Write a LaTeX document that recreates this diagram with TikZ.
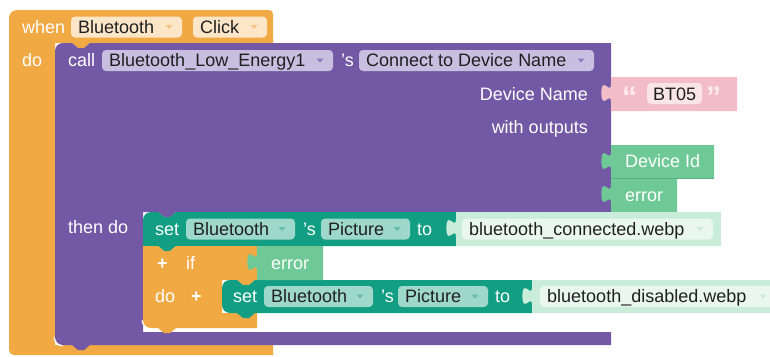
\documentclass[tikz,border=0pt]{standalone}
\usepackage{fontspec}
\setmainfont{Liberation Sans}

% block colours
\definecolor{evt}{HTML}{F1A944}
\definecolor{evtfld}{HTML}{FDE5C7}
\definecolor{evtarr}{HTML}{F5C484}
\definecolor{pur}{HTML}{7359A5}
\definecolor{purfld}{HTML}{C8BEE0}
\definecolor{purarr}{HTML}{8E7CBE}
\definecolor{setc}{HTML}{119E82}
\definecolor{setfld}{HTML}{9ED8CA}
\definecolor{setarr}{HTML}{63BDA8}
\definecolor{outg}{HTML}{6FC996}
\definecolor{outgdk}{HTML}{5BB383}
\definecolor{txtg}{HTML}{C9EDD9}
\definecolor{txtgfld}{HTML}{E9F7EF}
\definecolor{txtgarr}{HTML}{CDE9DA}
\definecolor{pink}{HTML}{F2BDC7}
\definecolor{pinkfld}{HTML}{F9E4E8}
\definecolor{pinkq}{HTML}{FCEAEE}
\definecolor{ink}{HTML}{202020}

\newcommand\blkfont{\fontsize{18}{20}\selectfont}
\newcommand\quotefont{\fontsize{30}{32}\selectfont\bfseries}
\newcommand\possessive{{\char"0027}s}

\tikzset{
  lbl/.style={text=white, inner sep=0pt, anchor=base west, font=\blkfont},
  lblr/.style={text=white, inner sep=0pt, anchor=base east, font=\blkfont},
  fldtxt/.style={text=ink, inner sep=0pt, anchor=base west, font=\blkfont},
  quotemark/.style={text=pinkq, inner sep=0pt, anchor=base west, font=\quotefont},
}

% dropdown field: name, fill, arrow colour, left x, right x, centre y, text
\newcommand\ddfield[7]{%
  \fill[#2, rounded corners=4] (#4,#6-10.5) rectangle (#5,#6+10.5);
  \node[fldtxt] (#1) at (#4+7,#6+6.3) {#7};
  \fill[#3] (#5-16.5,#6-2) -- (#5-9.5,#6-2) -- (#5-13,#6+2) -- cycle;
}

% value block with a puzzle tab on its left edge: colour, left, right, top, bottom
\newcommand\valblk[5]{%
  \fill[#1] (#2,#4) -- (#3,#4) -- (#3,#5) -- (#2,#5) -- (#2,#4+25)
    .. controls (#2,#4+13) and (#2-9.6,#4+34.6) .. (#2-9.6,#4+16)
    .. controls (#2-9.6,#4-2.6) and (#2,#4+19) .. (#2,#4+7) -- cycle;
}

\begin{document}
\begin{tikzpicture}[x=1pt,y=-1pt]
\useasboundingbox (0,0) rectangle (770,356);
\clip (0,0) rectangle (770,356);

% event block: when Bluetooth.Click
\fill[evt] (9,18) arc[start angle=180,end angle=270,radius=8] -- (269,10)
  arc[start angle=270,end angle=360,radius=4] -- (273,43)
  -- (90,43) -- (84,48) -- (78,48) -- (72,43) -- (55,43)
  -- (55,345) -- (273,345) -- (273,355) -- (14,355)
  arc[start angle=90,end angle=180,radius=5] -- cycle;

% method call block with its "then do" statement input
\fill[pur] (55,51) arc[start angle=180,end angle=270,radius=8]
  -- (72,43) -- (78,48) -- (84,48) -- (90,43) -- (611,43) -- (611,212)
  -- (176,212) -- (170,217) -- (164,217) -- (158,212) -- (143,212)
  -- (143,332) -- (611,332) -- (611,345)
  -- (90,345) -- (84,350) -- (78,350) -- (72,345) -- (63,345)
  arc[start angle=90,end angle=180,radius=8] -- cycle;
\draw[white, line width=0.9] (54,337) arc[start angle=180,end angle=90,radius=9];

% first setter
\fill[setc] (143,220) arc[start angle=180,end angle=270,radius=8]
  -- (158,212) -- (164,217) -- (170,217) -- (176,212) -- (456,212)
  -- (456,246) -- (176,246) -- (170,251) -- (164,251) -- (158,246)
  -- (143,246) -- cycle;

% if block
\fill[evt] (143,246) -- (158,246) -- (164,251) -- (170,251) -- (176,246)
  -- (257,246) -- (257,280)
  -- (255,280) -- (249,285) -- (243,285) -- (237,280) -- (222,280)
  -- (222,313) -- (257,313) -- (257,328)
  -- (176,328) -- (170,333) -- (164,333) -- (158,328) -- (151,328)
  arc[start angle=90,end angle=180,radius=8] -- cycle;
\draw[white, line width=0.9] (142,320) arc[start angle=180,end angle=90,radius=9];

% second setter, inside the if
\fill[setc] (222,288) arc[start angle=180,end angle=270,radius=8]
  -- (237,280) -- (243,285) -- (249,285) -- (255,280) -- (532,280)
  -- (532,313) -- (255,313) -- (249,318) -- (243,318) -- (237,313)
  -- (230,313) arc[start angle=90,end angle=180,radius=8] -- cycle;

% value blocks
\valblk{pink}{611}{737}{77}{111}
\valblk{outg}{611}{714}{145}{178}
\valblk{outg}{611}{677}{178}{212}
\draw[outgdk, line width=0.8] (611,178) -- (714,178);
\valblk{outg}{257}{323}{246}{280}
\valblk{txtg}{456}{721}{212}{246}
\valblk{txtg}{532}{790}{280}{313}

% event header
\node[lbl] (when) at (22,33.5) {when};
\ddfield{evcomp}{evtfld}{evtarr}{71}{182}{27}{Bluetooth}
\ddfield{evname}{evtfld}{evtarr}{193}{267}{27}{Click}
\node[lbl] (evdo) at (22,66) {do};

% method call header
\node[lbl] (call) at (68,66.5) {call};
\ddfield{ble}{purfld}{purarr}{102}{333}{60.5}{Bluetooth\_Low\_Energy1}
\node[lbl] (apos1) at (341,66.5) {\possessive};
\ddfield{method}{purfld}{purarr}{359}{594}{60.5}{Connect to Device Name}
\node[lblr] (devname) at (588,100) {Device Name};
\node[lblr] (without) at (588,133) {with outputs};
\node[lbl] (thendo) at (68,233.5) {then do};

% text literal
\node[quotemark] (qopen) at (622,107) {“};
\fill[pinkfld, rounded corners=4] (647,83) rectangle (702,104);
\node[fldtxt] (bt05) at (653,100) {BT05};
\node[quotemark] (qclose) at (706,107) {”};

% output getters
\node[lbl] (devid) at (625,167.5) {Device Id};
\node[lbl] (err1) at (625,201) {error};

% first setter contents
\node[lbl] (set1) at (155,235) {set};
\ddfield{s1comp}{setfld}{setarr}{186}{295}{229}{Bluetooth}
\node[lbl] (apos2) at (303,235) {\possessive};
\ddfield{s1prop}{setfld}{setarr}{321}{410}{229}{Picture}
\node[lbl] (to1) at (417,235) {to};
\ddfield{s1val}{txtgfld}{txtgarr}{462}{713}{229}{bluetooth\_connected.webp}

% if block contents
\node[lbl, font=\blkfont\bfseries] (plus1) at (157,269) {+};
\node[lbl] (iflbl) at (186,269) {if};
\node[lbl] (err2) at (271,269) {error};
\node[lbl] (ifdo) at (155,302.5) {do};
\node[lbl, font=\blkfont\bfseries] (plus2) at (191,302.5) {+};

% second setter contents
\node[lbl] (set2) at (233,302.5) {set};
\ddfield{s2comp}{setfld}{setarr}{264}{373}{296.5}{Bluetooth}
\node[lbl] (apos3) at (381,302.5) {\possessive};
\ddfield{s2prop}{setfld}{setarr}{398}{488}{296.5}{Picture}
\node[lbl] (to2) at (495,302.5) {to};
\ddfield{s2val}{txtgfld}{txtgarr}{540}{776}{296.5}{bluetooth\_disabled.webp}

\end{tikzpicture}
\end{document}
